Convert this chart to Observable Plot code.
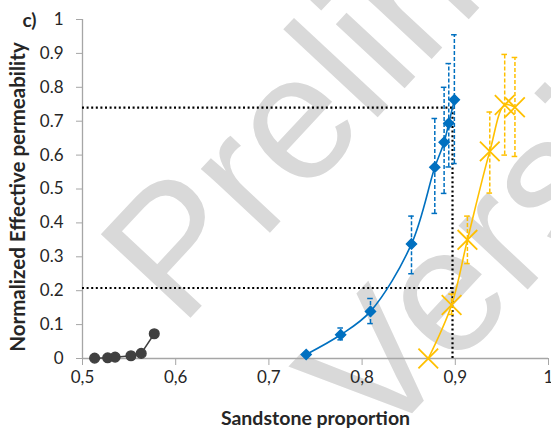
<!DOCTYPE html>
<html>
<head>
<meta charset="utf-8">
<script src="https://cdn.jsdelivr.net/npm/d3@7"></script>
<script src="https://cdn.jsdelivr.net/npm/@observablehq/plot@0.6"></script>
<style>
  html, body { margin: 0; padding: 0; background: white; }
</style>
</head>
<body>
<div id="chart"></div>
<script>
// ---- data ----
const grayX = [0.513, 0.527, 0.535, 0.552, 0.563, 0.577];
const grayY = [0.001, 0.002, 0.004, 0.008, 0.015, 0.073];

const blueX  = [0.740, 0.777, 0.809, 0.853, 0.878, 0.888, 0.893, 0.899];
const blueY  = [0.012, 0.070, 0.139, 0.338, 0.564, 0.638, 0.694, 0.763];
const blueLo = [0.012, 0.055, 0.103, 0.250, 0.428, 0.487, 0.565, 0.575];
const blueHi = [0.012, 0.090, 0.177, 0.420, 0.708, 0.800, 0.870, 0.955];

const orangeX  = [0.871, 0.896, 0.913, 0.937, 0.953, 0.964];
const orangeY  = [0.000, 0.158, 0.350, 0.611, 0.748, 0.741];
const orangeLo = [0.000, 0.130, 0.280, 0.488, 0.600, 0.596];
const orangeHi = [0.000, 0.190, 0.420, 0.727, 0.897, 0.888];

const refLevels = [0.74, 0.208];   // dotted horizontal lines
const refSpan   = [0.5, 0.897];    // their x extent
const refVert   = [0.897];         // dotted vertical line
const refVertY  = [0, 0.74];

const xTicks = [0.5, 0.6, 0.7, 0.8, 0.9, 1];
const yTicks = [0, 0.1, 0.2, 0.3, 0.4, 0.5, 0.6, 0.7, 0.8, 0.9, 1];

const panelLabel = "c)";
const xLabel = "Sandstone proportion";
const yLabel = "Normalized Effective permeability";
const watermark = ["Preliminary", "Version"];

// ---- build tables ----
const gray = grayX.map((x, i) => ({x, y: grayY[i]}));
const blue = blueX.map((x, i) => ({x, y: blueY[i], lo: blueLo[i], hi: blueHi[i]}));
const orange = orangeX.map((x, i) => ({x, y: orangeY[i], lo: orangeLo[i], hi: orangeHi[i]}));
const blueErr = blue.filter(d => d.hi > d.lo);
const orangeErr = orange.filter(d => d.hi > d.lo);

const BLUE = "#0070C0", ORANGE = "#FFC000", GRAY = "#404040", AXIS = "#a6a6a6", INK = "#262626";
const FONT = "Lato, 'Open Sans', sans-serif";
const capW = 0.003;

const errMarks = (data, color) => [
  Plot.ruleX(data, {x: "x", y1: "lo", y2: "hi", stroke: color, strokeWidth: 1.5, strokeDasharray: "4,2"}),
  Plot.ruleY(data, {y: "hi", x1: d => d.x - capW, x2: d => d.x + capW, stroke: color, strokeWidth: 1.5}),
  Plot.ruleY(data, {y: "lo", x1: d => d.x - capW, x2: d => d.x + capW, stroke: color, strokeWidth: 1.5})
];

const wm = {rotate: -47, textAnchor: "start", lineAnchor: "bottom", fontSize: 178, fill: "#d9d9d9",
  fontFamily: "'Liberation Sans', Arial, sans-serif", frameAnchor: "top-left"};

const chart = Plot.plot({
  width: 551,
  height: 431,
  marginLeft: 82,
  marginRight: 3,
  marginTop: 19,
  marginBottom: 73,
  style: {fontFamily: FONT, fontSize: "17px", background: "white", overflow: "visible"},
  x: {domain: [0.5, 1]},
  y: {domain: [0, 1]},
  marks: [
    // watermark
    Plot.text([watermark[0]], {...wm, dx: 98, dy: 309}),
    Plot.text([watermark[1]], {...wm, dx: 295, dy: 431}),

    // axes
    Plot.axisX({ticks: xTicks, tickFormat: d => String(d).replace(".", ","), tickSize: 7, tickPadding: 5,
      stroke: AXIS, fill: INK, label: null, fontSize: 17}),
    Plot.axisY({ticks: yTicks, tickFormat: d => String(d), tickSize: 6, tickPadding: 13,
      stroke: AXIS, fill: INK, label: null, fontSize: 17}),
    Plot.ruleY([0], {stroke: AXIS, strokeWidth: 1.3}),
    Plot.ruleX([0.5], {stroke: AXIS, strokeWidth: 1.3}),

    // dotted reference lines
    Plot.ruleY(refLevels, {x1: refSpan[0], x2: refSpan[1], stroke: "black", strokeWidth: 2.2, strokeDasharray: "2,2.6"}),
    Plot.ruleX(refVert, {y1: refVertY[0], y2: refVertY[1], stroke: "black", strokeWidth: 2.2, strokeDasharray: "2,2.6"}),

    // error bars
    ...errMarks(blueErr, BLUE),
    ...errMarks(orangeErr, ORANGE),

    // series
    Plot.line(gray, {x: "x", y: "y", stroke: GRAY, strokeWidth: 1.5}),
    Plot.dot(gray, {x: "x", y: "y", r: 4.8, fill: GRAY, stroke: GRAY}),

    Plot.line(blue, {x: "x", y: "y", stroke: BLUE, strokeWidth: 1.6, curve: "catmull-rom"}),
    Plot.dot(blue, {x: "x", y: "y", symbol: "diamond2", r: 4.5, fill: BLUE, stroke: BLUE}),

    Plot.line(orange, {x: "x", y: "y", stroke: ORANGE, strokeWidth: 1.6, curve: "catmull-rom"}),
    Plot.dot(orange, {x: "x", y: "y", symbol: "times", r: 9, stroke: ORANGE, strokeWidth: 1.8}),

    // labels
    Plot.text([panelLabel], {frameAnchor: "top-left", dx: -60, dy: 1, textAnchor: "start", lineAnchor: "middle",
      fontWeight: "bold", fontSize: 19, fill: INK}),
    Plot.text([xLabel], {frameAnchor: "bottom", dy: 60, textAnchor: "middle", lineAnchor: "middle",
      fontWeight: "bold", fontSize: 19.5, fill: INK}),
    Plot.text([yLabel], {frameAnchor: "left", dx: -64, dy: 8, rotate: -90, textAnchor: "middle", lineAnchor: "middle",
      fontWeight: "bold", fontSize: 20.5, fill: INK})
  ]
});
document.getElementById("chart").appendChild(chart);
</script>
</body>
</html>
